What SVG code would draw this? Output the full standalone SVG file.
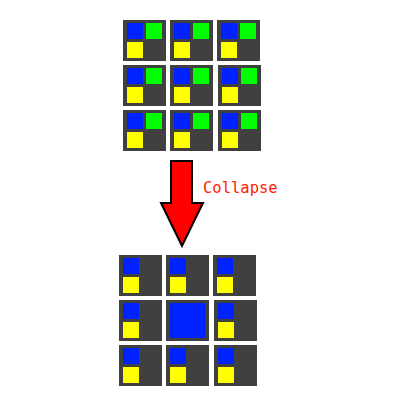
<svg xmlns="http://www.w3.org/2000/svg" width="400" height="400" viewBox="0 0 400 400">
<defs>
<style>
.cell{fill:#404040}
.b{fill:#0022ff}
.g{fill:#00ff00}
.y{fill:#ffff00}
.lbl{font-family:"DejaVu Sans Mono","Liberation Mono",monospace;font-size:15.5px;fill:#ff2200}
</style>
<g id="full">
<rect class="cell" x="0" y="0" width="43" height="41"/>
<rect class="b" x="4" y="3" width="16" height="16"/>
<rect class="g" x="23" y="3" width="16" height="16"/>
<rect class="y" x="4" y="22" width="16" height="16"/>
</g>
<g id="partial">
<rect class="cell" x="0" y="0" width="43" height="41"/>
<rect class="b" x="4" y="3" width="16" height="16"/>
<rect class="y" x="4" y="22" width="16" height="16"/>
</g>
</defs>
<rect width="400" height="400" fill="#ffffff"/>
<g id="top-grid">
<use id="t00" href="#full" x="123" y="20"/>
<use id="t01" href="#full" x="170" y="20"/>
<use id="t02" href="#full" x="217" y="20"/>
<use id="t10" href="#full" x="123" y="65"/>
<use id="t11" href="#full" x="170" y="65"/>
<use id="t12" href="#full" x="218" y="65"/>
<use id="t20" href="#full" x="123" y="110"/>
<use id="t21" href="#full" x="170" y="110"/>
<use id="t22" href="#full" x="218" y="110"/>
</g>
<g id="connectors">
<path d="M171,161 H192 V203 H203 L182,246 L161,203 H171 Z" fill="#ff0000" stroke="#000000" stroke-width="2" stroke-linejoin="miter"/>
<text class="lbl" x="203" y="193">Collapse</text>
</g>
<g id="bottom-grid">
<use id="b00" href="#partial" x="119" y="255"/>
<use id="b01" href="#partial" x="166" y="255"/>
<use id="b02" href="#partial" x="213" y="255"/>
<use id="b10" href="#partial" x="119" y="300"/>
<g id="b11">
<rect class="cell" x="166" y="300" width="43" height="41"/>
<rect class="b" x="170" y="303" width="35" height="35"/>
</g>
<use id="b12" href="#partial" x="214" y="300"/>
<use id="b20" href="#partial" x="119" y="345"/>
<use id="b21" href="#partial" x="166" y="345"/>
<use id="b22" href="#partial" x="214" y="345"/>
</g>
</svg>
